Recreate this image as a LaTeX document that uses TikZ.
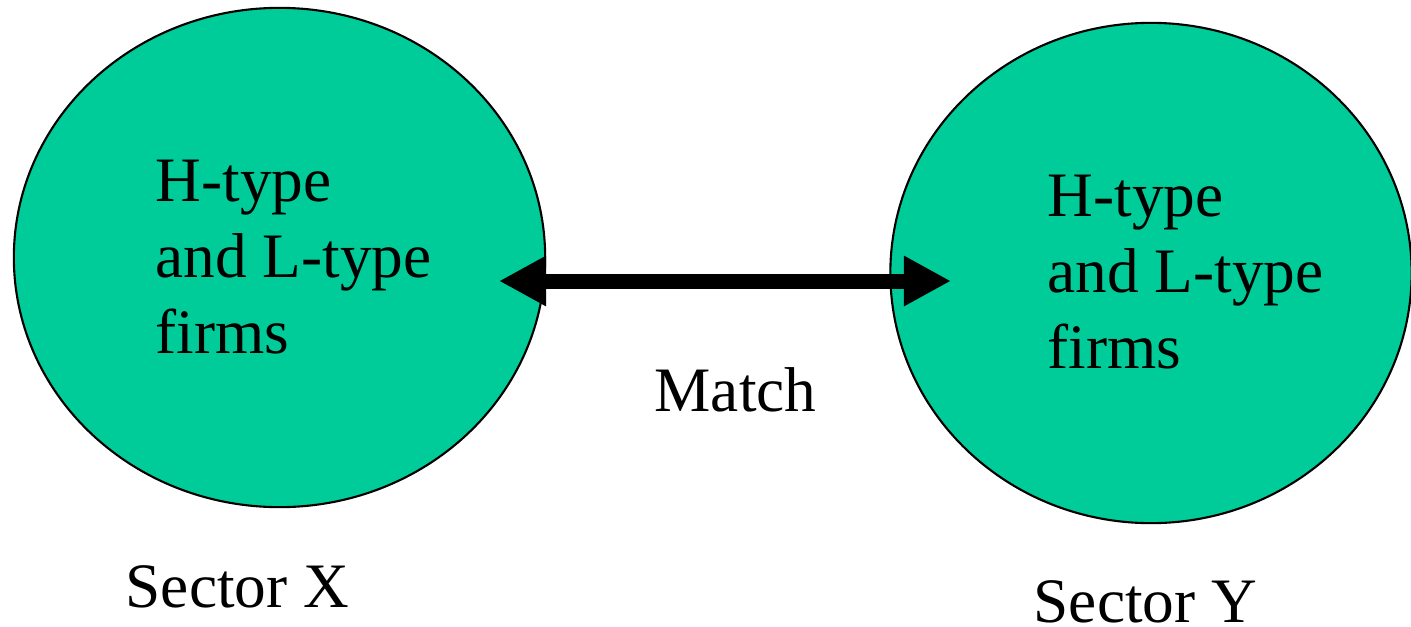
\documentclass[tikz,border=0pt]{standalone}
\usepackage{fontspec}
\setmainfont{Liberation Serif}
\usetikzlibrary{shapes.geometric,arrows.meta}
\definecolor{sectorgreen}{RGB}{0,204,153}
\tikzset{
  sector/.style={ellipse, draw=black, line width=0.6pt, fill=sectorgreen, inner sep=0pt},
  lbl/.style={inner sep=0pt, anchor=base west, align=left, font=\fontsize{18}{21.6}\selectfont},
  matcharrow/.style={line width=0.15cm, {Triangle[length=4.7mm,width=4.7mm]}-{Triangle[length=4.7mm,width=4.7mm]}}
}
\begin{document}
\begin{tikzpicture}[x=0.01cm,y=-0.01cm]
\useasboundingbox (0,0) rectangle (1411,627);
\clip (0,0) rectangle (1411,627);
\node[sector, minimum width=5.31cm, minimum height=4.99cm] (X) at (279.5,257.5) {};
\node[sector, minimum width=5.21cm, minimum height=5.00cm] (Y) at (1151,273) {};
\node[lbl] (tX) at (155,353) {H-type\\and L-type\\firms};
\node[lbl] (tY) at (1047,368.5) {H-type\\and L-type\\firms};
\coordinate (aL) at (499,281);
\coordinate (aR) at (951,281);
\draw[matcharrow] (aL) -- (aR);
\node[lbl] (match) at (654,411.7) {Match};
\node[lbl] (sX) at (125,607.3) {Sector X};
\node[lbl] (sY) at (1033,622) {Sector Y};
\end{tikzpicture}
\end{document}
